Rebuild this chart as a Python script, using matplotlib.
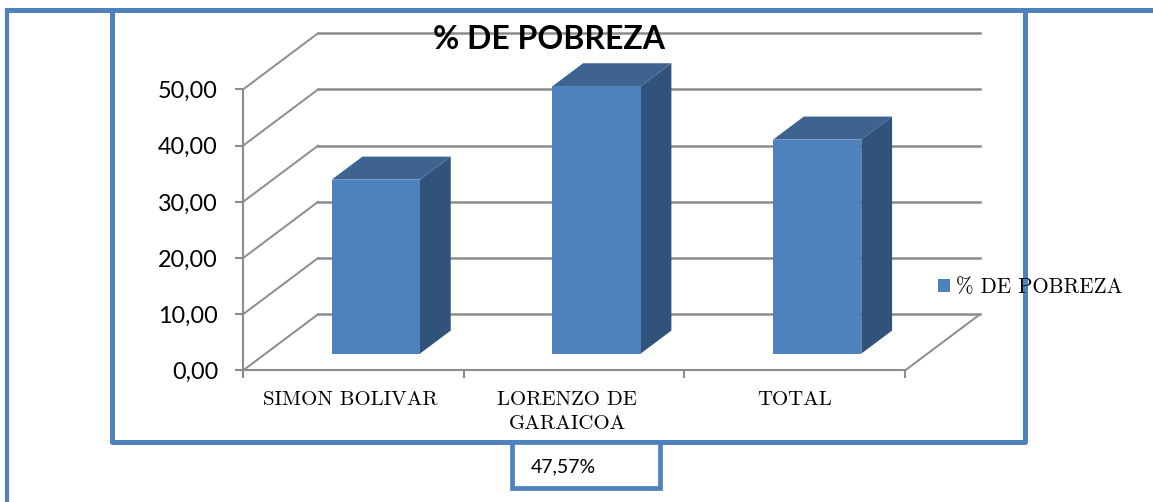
import matplotlib
matplotlib.use("Agg")
import matplotlib.pyplot as plt
from matplotlib.lines import Line2D
from matplotlib.patches import Polygon, Rectangle

categories = ["SIMON BOLIVAR", "LORENZO DE\nGARAICOA", "TOTAL"]
valores = [30.96, 47.57, 38.08]
y_ticks = [0, 10, 20, 30, 40, 50]
serie = "% DE POBREZA"

W, H = 1153, 502
AZUL = "#4F81BD"
LADO = "#31527A"
TECHO = "#3E6390"
GRIS = "#8C8C8C"

# depth of the 3d box, in data units
DX = 75 / (662 / 3)
DY = 10
BAR_W = 0.40
D0, D1 = 0.30, 0.71

fig = plt.figure(figsize=((W + 0.01) / 100, (H + 0.01) / 100), dpi=100)


def linea(xs, ys, lw=3.6):
    # pixel coords from the top left, only for the page frames
    fig.add_artist(Line2D([x / W for x in xs], [1 - y / H for y in ys], color=AZUL,
                          lw=lw, zorder=-2, solid_capstyle="projecting"))


linea([7, 7], [10, 502], 3.0)
linea([7, 1153], [10, 10])
linea([112, 112, 1025, 1025], [10, 442, 442, 10])
fig.add_artist(Rectangle((512 / W, 1 - 488 / H), 148 / W, 46 / H, transform=fig.transFigure,
                         fc="white", ec=AZUL, lw=3.4, zorder=-1))
fig.text(531 / W, 1 - 467 / H, "47,57%", family="Lato", fontsize=14, color="black",
         va="center", ha="left")

ax = fig.add_axes([243 / W, 1 - 370.5 / H, 662 / W, 281 / H])
ax.patch.set_visible(False)
ax.set_xlim(0, 3)
ax.set_ylim(0, 50)
for s in ["top", "right"]:
    ax.spines[s].set_visible(False)
for s in ["left", "bottom"]:
    ax.spines[s].set_color(GRIS)
    ax.spines[s].set_linewidth(1.5)

# back wall and floor lines
for v in y_ticks:
    ax.plot([0, DX], [v, v + DY], color=GRIS, lw=1.4, clip_on=False, zorder=1)
    ax.plot([DX, 3 + DX], [v + DY, v + DY], color=GRIS, lw=1.8, clip_on=False, zorder=1)
ax.plot([3, 3 + DX], [0, DY], color=GRIS, lw=1.4, clip_on=False, zorder=1)

# bars: front face with ax.bar, side and top as polygons
for i, v in enumerate(valores):
    cx = i + 0.5 + D0 * DX
    x0 = cx - BAR_W / 2
    x1 = cx + BAR_W / 2
    y0 = D0 * DY
    ddx = (D1 - D0) * DX
    ddy = (D1 - D0) * DY
    ax.add_patch(Polygon([(x1, y0), (x1 + ddx, y0 + ddy), (x1 + ddx, v + y0 + ddy), (x1, v + y0)],
                         fc=LADO, ec="none", clip_on=False, zorder=3))
    ax.add_patch(Polygon([(x0, v + y0), (x1, v + y0), (x1 + ddx, v + y0 + ddy), (x0 + ddx, v + y0 + ddy)],
                         fc=TECHO, ec="none", clip_on=False, zorder=3))
    ax.bar(cx, v, BAR_W, bottom=y0, color=AZUL, clip_on=False, zorder=4)

ax.set_yticks(y_ticks)
ax.set_yticklabels(["%d,00" % v for v in y_ticks], family="Lato", fontsize=16.8)
ax.tick_params(axis="y", length=6, width=1.5, color=GRIS, pad=12)
ax.set_xticks([0, 1, 2, 3])
ax.set_xticklabels([])
ax.tick_params(axis="x", which="major", length=6, width=1.5, color=GRIS)
ax.set_xticks([0.485, 1.47, 2.5], minor=True)
ax.set_xticklabels(categories, minor=True, family="cmr10", fontsize=15, linespacing=1.42)
ax.tick_params(axis="x", which="minor", length=0, pad=15)

fig.text(549 / W, 1 - 39 / H, serie, family="Lato", fontweight="bold", fontsize=23,
         ha="center", va="center", color="black", zorder=10)

handle = Rectangle((0, 0), 1, 1, fc=AZUL, ec="none")
fig.legend([handle], [serie], loc="center left", bbox_to_anchor=(938 / W, 1 - 287 / H), frameon=False,
           prop={"family": "cmr10", "size": 15.2}, handlelength=0.55, handleheight=0.55,
           handletextpad=0.3, borderpad=0, borderaxespad=0)

fig.savefig("out.png", dpi=100)
